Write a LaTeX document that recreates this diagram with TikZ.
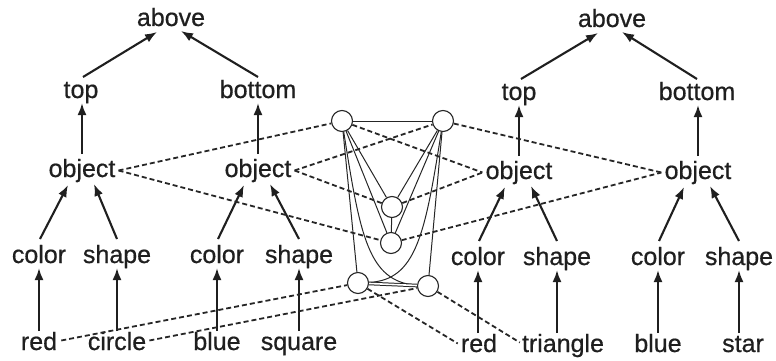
\documentclass[tikz,border=0pt]{standalone}
\usepackage{fontspec}
\setmainfont{Liberation Sans}
\newfontfamily\lblfont{Liberation Sans}[FakeBold=0.6]
\usetikzlibrary{calc,arrows.meta}
\begin{document}
\begin{tikzpicture}[x=1pt,y=-1pt,
  lbl/.style={font=\lblfont\fontsize{25}{30}\selectfont, text=black!88, inner sep=0pt, text height=18pt, text depth=5pt, anchor=base},
  arr/.style={line width=2.1pt, black!88, -{Latex[length=12pt,width=9pt]}},
  dsh/.style={line width=1.8pt, black!85, dash pattern=on 5pt off 3pt},
  unit/.style={circle, draw, black!85, line width=1.1pt, minimum size=21pt, inner sep=0pt},
  lnk/.style={line width=1pt, black!85}]
\useasboundingbox (0,0) rectangle (776,361);
% ---------- left structure
\node[lbl] (aboveL) at (171,26) {above};
\node[lbl] (topL) at (81,98) {top};
\node[lbl] (bottomL) at (258,98) {bottom};
\node[lbl] (objL1) at (82,177) {object};
\node[lbl] (objL2) at (258,177) {object};
\node[lbl] (colL1) at (39,263) {color};
\node[lbl] (shpL1) at (117,263) {shape};
\node[lbl] (colL2) at (217,263) {color};
\node[lbl] (shpL2) at (299,263) {shape};
\node[lbl] (redL) at (39,350) {red};
\node[lbl] (circL) at (117,350) {circle};
\node[lbl] (blueL) at (217,350) {blue};
\node[lbl] (sqL) at (299,350) {square};
% ---------- right structure
\node[lbl] (aboveR) at (612,27) {above};
\node[lbl] (topR) at (519,100) {top};
\node[lbl] (bottomR) at (697,100) {bottom};
\node[lbl] (objR1) at (519,179) {object};
\node[lbl] (objR2) at (698,179) {object};
\node[lbl] (colR1) at (478,265) {color};
\node[lbl] (shpR1) at (557,265) {shape};
\node[lbl] (colR2) at (658,265) {color};
\node[lbl] (shpR2) at (739,265) {shape};
\node[lbl] (redR) at (479,352) {red};
\node[lbl] (triR) at (563,352) {triangle};
\node[lbl] (blueR) at (658,352) {blue};
\node[lbl] (starR) at (743,352) {star};
% ---------- central units
\node[unit] (TL) at (342,121) {};
\node[unit] (TR) at (443,121) {};
\node[unit] (MU) at (392,207) {};
\node[unit] (ML) at (391,243) {};
\node[unit] (BL) at (358,283) {};
\node[unit] (BR) at (428,286) {};
% ---------- tree arrows
\foreach \ab/\tp/\bt/\oa/\ob in {aboveL/topL/bottomL/objL1/objL2, aboveR/topR/bottomR/objR1/objR2}{
  \draw[arr] ($(\tp.base)+(2,-21)$) -- ($(\ab.base)+(-14,6)$);
  \draw[arr] ($(\bt.base)+(0,-21)$) -- ($(\ab.base)+(10,5)$);
  \draw[arr] ($(\oa.base)+(0,-23)$) -- ($(\oa.base |- \tp.base)+(0,5)$);
  \draw[arr] ($(\ob.base)+(0,-23)$) -- ($(\ob.base |- \bt.base)+(0,5)$);
}
\foreach \o/\c/\s in {objL1/colL1/shpL1, objL2/colL2/shpL2, objR1/colR1/shpR1, objR2/colR2/shpR2}{
  \draw[arr] ($(\c.base)+(1,-24)$) -- ($(\o.base)+(-14,8)$);
  \draw[arr] ($(\s.base)+(0,-24)$) -- ($(\o.base)+(12,7)$);
}
\foreach \u/\l in {colL1/redL, shpL1/circL, colL2/blueL, shpL2/sqL, colR1/redR, shpR1/triR, colR2/blueR, shpR2/starR}{
  \draw[arr] ($(\u.base |- \l.base)+(0,-19)$) -- ($(\u.base)+(0,5)$);
}
% ---------- solid links among units
\draw[lnk] (TL) -- (TR);
\draw[lnk] (TL) -- (BL);
\draw[lnk] (TR) -- (BR);
\draw[lnk] (TL) -- (MU);
\draw[lnk] (TL) -- (ML);
\draw[lnk] (TR) -- (MU);
\draw[lnk] (TR) -- (ML);
\draw[lnk] (MU) -- (ML);
\draw[lnk] (TL) .. controls (360,235) and (368,282) .. (BR);
\draw[lnk] (TR) .. controls (425,235) and (416,280) .. (BL);
\draw[lnk, double, double distance=1.6pt] (BL) -- (BR);
% ---------- dashed mapping links
\draw[dsh] ($(objL1.east)+(3,0)$) -- (TL);
\draw[dsh] ($(objL1.east)+(3,0)$) -- (ML);
\draw[dsh] ($(objL2.east)+(3,0)$) -- (TR);
\draw[dsh] ($(objL2.east)+(3,0)$) -- (MU);
\draw[dsh] (TL) -- ($(objR1.west)+(-3,0)$);
\draw[dsh] (MU) -- ($(objR1.west)+(-3,0)$);
\draw[dsh] (TR) -- ($(objR2.west)+(-3,0)$);
\draw[dsh] (ML) -- ($(objR2.west)+(-3,0)$);
\draw[dsh] ($(redL.east)+(4,-3)$) -- (BL);
\draw[dsh] ($(circL.east)+(3,-3)$) -- (BR);
\draw[dsh] (BL) -- ($(redR.west)+(-3,-2)$);
\draw[dsh] (BR) -- ($(triR.west)+(-2,-3)$);
\end{tikzpicture}
\end{document}
